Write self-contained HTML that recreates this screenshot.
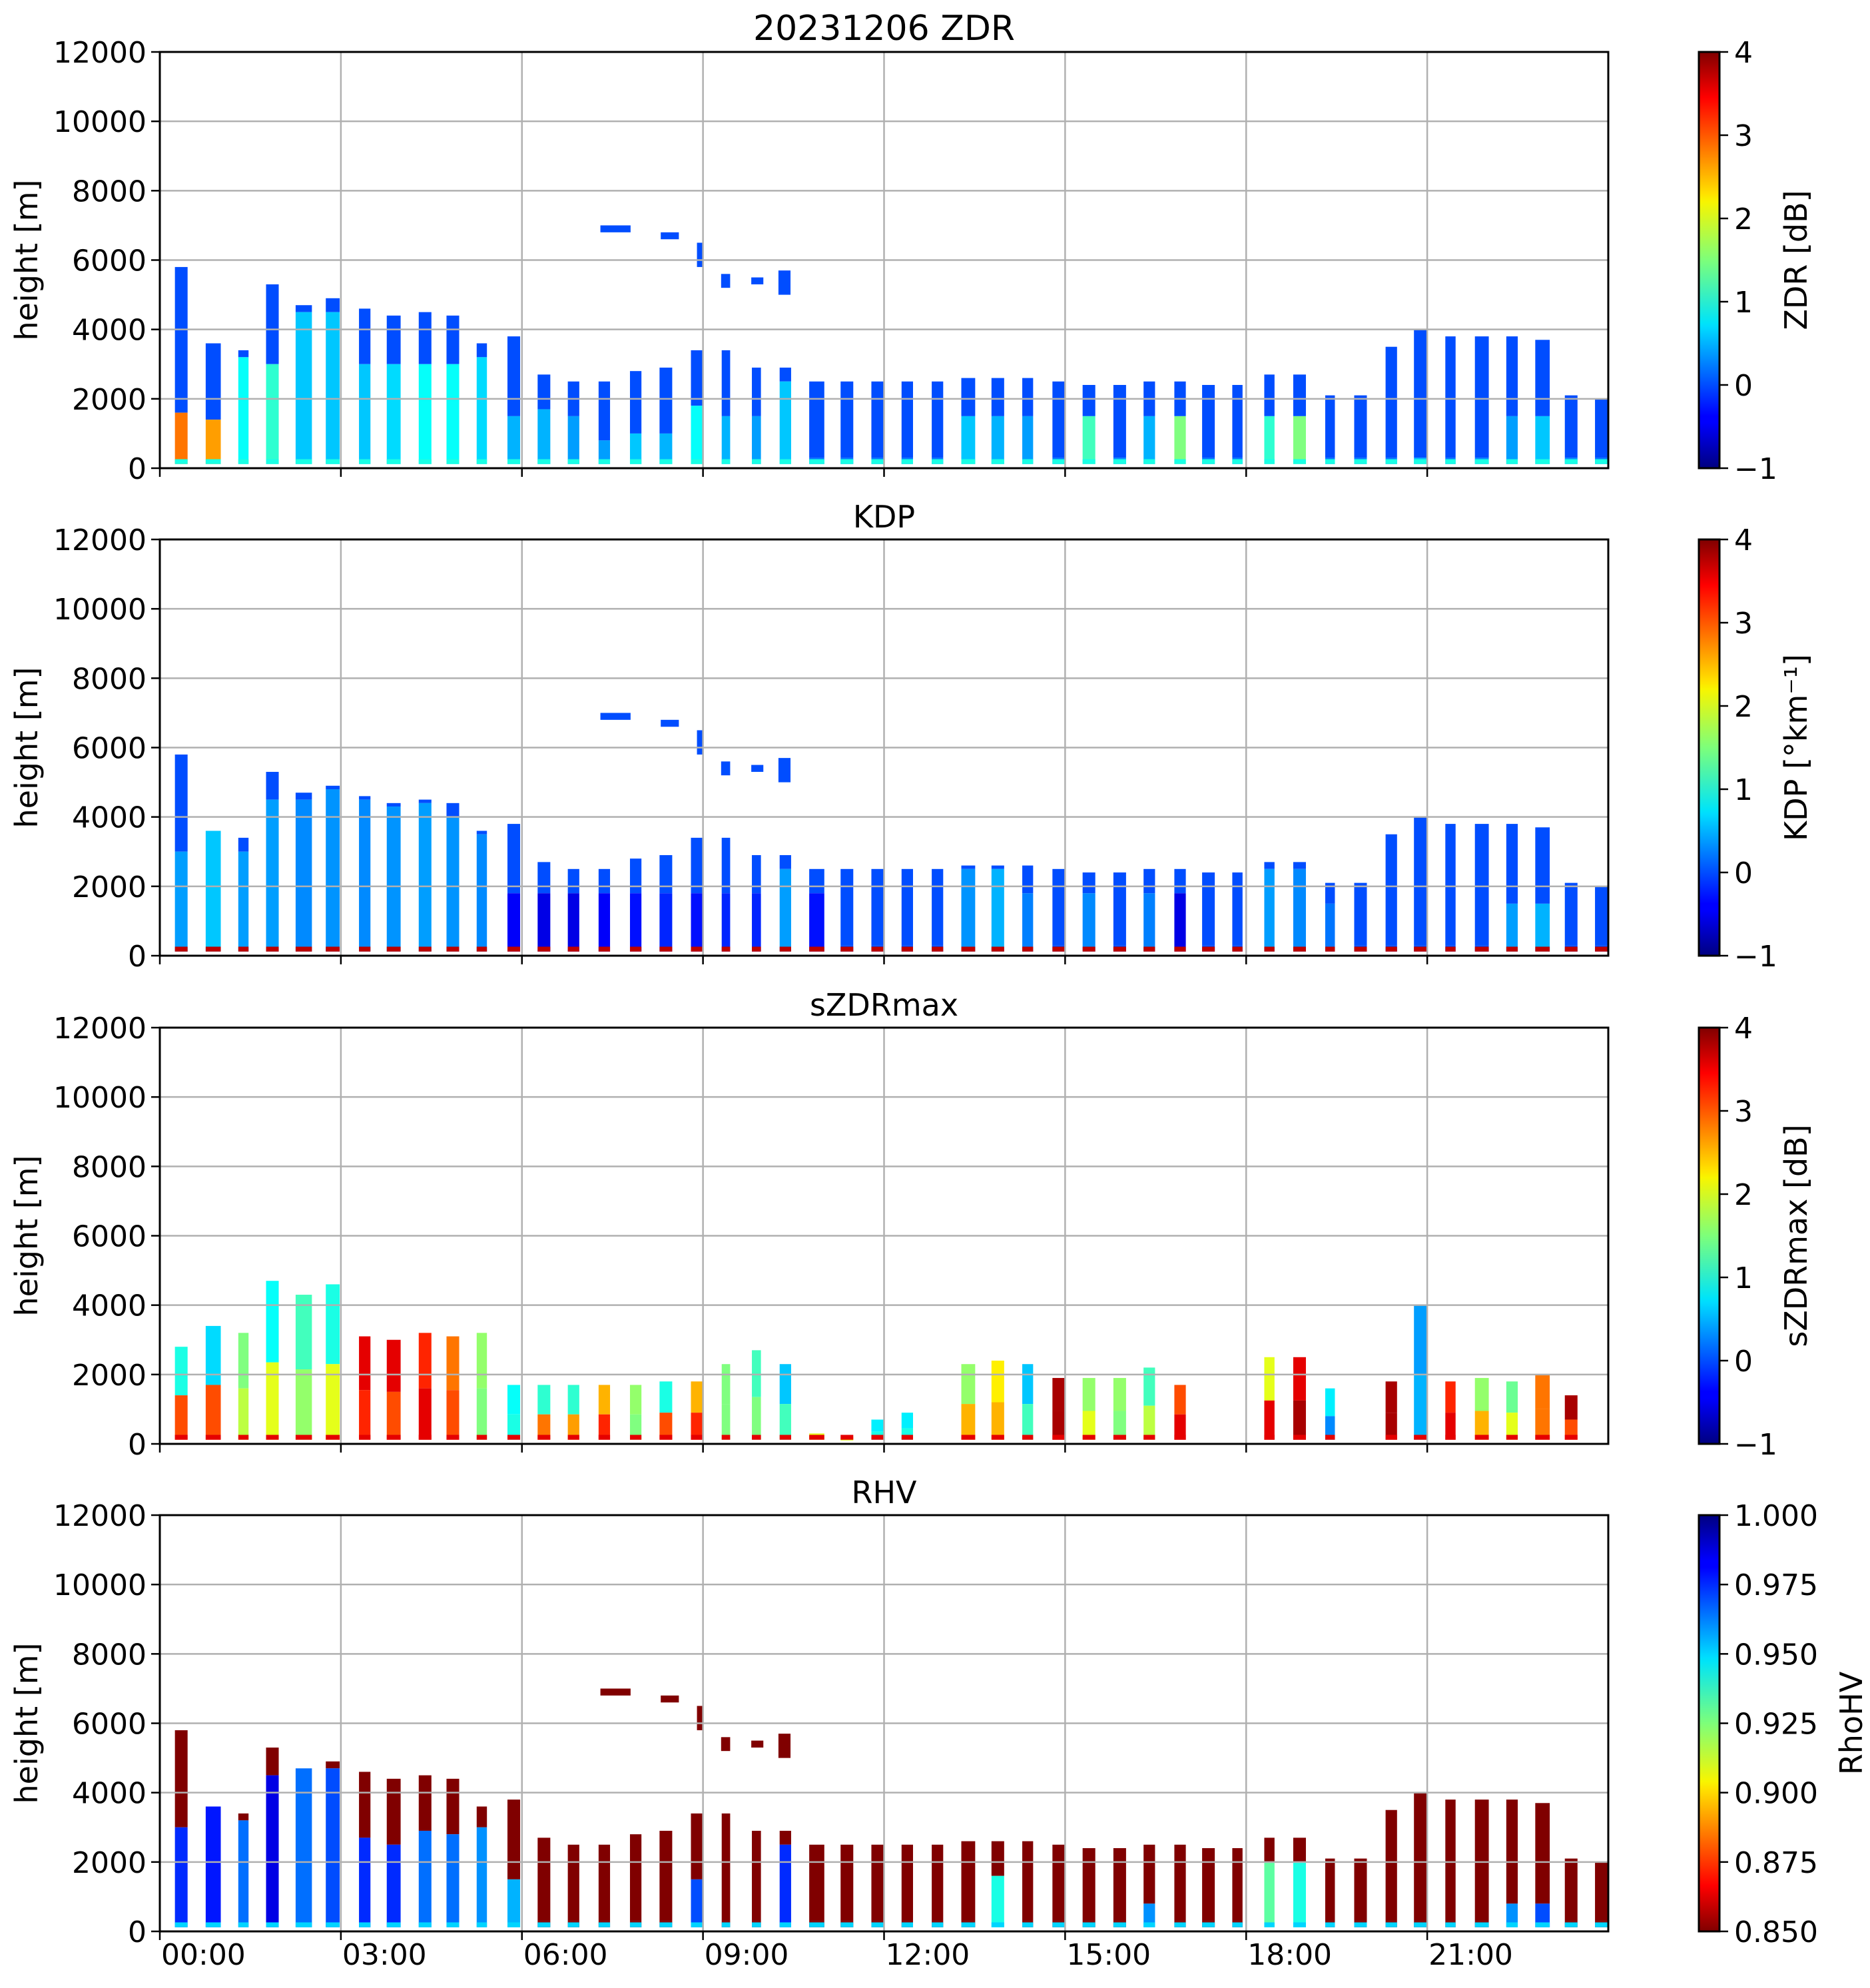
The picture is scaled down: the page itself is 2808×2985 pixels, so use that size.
<!DOCTYPE html>
<html><head><meta charset="utf-8"><style>
html,body{margin:0;padding:0;background:#fff;}
svg text{font-family:"DejaVu Sans","Liberation Sans",sans-serif;fill:#000;}
</style></head><body>
<svg id="fig" xmlns="http://www.w3.org/2000/svg" width="2808" height="2980" viewBox="0 0 2808 2980">
<defs>
<linearGradient id="jet" x1="0" y1="1" x2="0" y2="0">
<stop offset="0" stop-color="#000080"/><stop offset="0.11" stop-color="#0000ff"/><stop offset="0.125" stop-color="#0000ff"/>
<stop offset="0.34" stop-color="#00dcff"/><stop offset="0.35" stop-color="#00e4f8"/><stop offset="0.5" stop-color="#7dff7a"/>
<stop offset="0.64" stop-color="#f8f500"/><stop offset="0.66" stop-color="#ffe000"/><stop offset="0.89" stop-color="#ff0000"/><stop offset="1" stop-color="#800000"/>
</linearGradient>
<linearGradient id="jetr" x1="0" y1="0" x2="0" y2="1">
<stop offset="0" stop-color="#000080"/><stop offset="0.11" stop-color="#0000ff"/><stop offset="0.125" stop-color="#0000ff"/>
<stop offset="0.34" stop-color="#00dcff"/><stop offset="0.35" stop-color="#00e4f8"/><stop offset="0.5" stop-color="#7dff7a"/>
<stop offset="0.64" stop-color="#f8f500"/><stop offset="0.66" stop-color="#ffe000"/><stop offset="0.89" stop-color="#ff0000"/><stop offset="1" stop-color="#800000"/>
</linearGradient>
</defs>
</svg>
<script>
// ---- data ----
const colStart=[0.25,0.76,1.30,1.76,2.25,2.75,3.30,3.76,4.29,4.75,5.25,5.76,6.26,6.76,7.27,7.79,8.28,8.80,9.31,9.81,10.27,10.76,11.28,11.79,12.29,12.79,13.28,13.78,14.29,14.79,15.29,15.80,16.30,16.81,17.27,17.77,18.30,18.78,19.31,19.79,20.31,20.78,21.30,21.79,22.31,22.79,23.28,23.78];
const colEnd=[0.46,1.01,1.47,1.97,2.52,2.98,3.49,3.99,4.50,4.96,5.42,5.97,6.47,6.95,7.46,7.98,8.49,8.99,9.45,9.96,10.46,11.01,11.49,12.0,12.48,12.98,13.51,13.99,14.47,15.0,15.5,16.01,16.49,17.0,17.48,17.94,18.47,18.99,19.47,20.0,20.5,21.0,21.47,22.02,22.5,23.03,23.49,23.99];
const mainTop=[5800,3600,3400,5300,4700,4900,4600,4400,4500,4400,3600,3800,2700,2500,2500,2800,2900,3400,3400,2900,2900,2500,2500,2500,2500,2500,2600,2600,2600,2500,2400,2400,2500,2500,2400,2400,2700,2700,2100,2100,3500,4000,3800,3800,3800,3700,2100,2000];
const zdrSplit=[1600,1400,3200,3000,4500,4500,3000,3000,3000,3000,3200,1500,1700,1500,800,1000,1000,1800,1500,1500,2500,300,300,300,300,300,1500,1500,1500,300,1500,300,1500,1500,300,300,1500,1500,300,300,300,300,300,300,1500,1500,300,300];
const zdrLow=[2.8,2.6,0.9,1.1,0.6,0.6,0.6,0.7,0.9,0.9,0.7,0.5,0.5,0.4,0.4,0.6,0.5,0.9,0.5,0.4,0.6,0.2,0.2,0.2,0.2,0.2,0.6,0.5,0.4,0.2,1.2,0.3,0.5,1.5,0.2,0.2,1.1,1.5,0.2,0.2,0.2,0.5,0.2,0.3,0.4,0.6,0.3,0.2];
const kdpSplit=[3000,3600,3000,4500,4500,4800,4500,4300,4400,4000,3500,1800,1800,1800,1800,1800,1800,1800,1800,1800,2500,1800,300,300,300,300,2500,2500,1800,300,1800,300,1800,1800,300,300,2500,2500,1500,300,300,300,300,300,1500,1500,300,300];
const kdpLow=[0.4,0.6,0.4,0.4,0.3,0.35,0.3,0.35,0.4,0.35,0.3,-0.4,-0.5,-0.5,-0.4,-0.3,-0.2,-0.3,-0.2,-0.2,0.4,-0.3,0,0,0,0,0.35,0.5,0.25,0,0.3,0,0.25,-0.5,0,0,0.4,0.3,0.2,0,0,0,0,0,0.4,0.5,0,0];
const szdrTop=[2800,3400,3200,4700,4300,4600,3100,3000,3200,3100,3200,1700,1700,1700,1700,1700,1800,1800,2300,2700,2300,300,200,700,900,0,2300,2400,2300,1900,1900,1900,2200,1700,0,0,2500,2500,1600,0,1800,4000,1800,1900,1800,2000,1400,0];
const szdrLow=[3.0,3.0,1.8,2.0,1.6,2.0,3.2,3.0,3.5,3.0,1.5,1.0,2.8,2.6,3.2,1.5,3.0,3.2,1.5,1.5,1.2,2.0,2.0,1.0,1.0,0,2.5,2.5,1.2,3.8,2.0,1.5,1.8,3.5,0,0,3.5,3.8,0.3,0,3.8,0.5,3.5,2.5,2.0,2.8,3.0,0];
const szdrUp=[1.0,0.7,1.5,0.9,1.2,1.0,3.5,3.5,3.2,2.8,1.6,0.9,1.1,1.1,2.5,1.6,1.0,2.5,1.5,1.2,0.6,2.0,2.0,0.8,0.8,0,1.6,2.2,0.6,3.8,1.6,1.6,1.2,3.0,0,0,2.0,3.5,0.8,0,3.8,0.4,3.2,1.6,1.4,2.8,3.8,0];
const rhvSplit=[3000,3600,3200,4500,4700,4700,2700,2500,2900,2800,3000,1500,300,300,300,300,300,1500,300,300,2500,300,300,300,300,300,300,1600,300,300,300,300,800,300,300,300,2000,2000,300,300,300,300,300,300,800,800,300,300];
const rhvLow=[0.975,0.978,0.965,0.985,0.965,0.97,0.975,0.975,0.965,0.965,0.96,0.955,0.85,0.85,0.85,0.85,0.85,0.97,0.85,0.85,0.975,0.85,0.85,0.85,0.85,0.85,0.85,0.94,0.85,0.85,0.85,0.85,0.96,0.85,0.85,0.85,0.93,0.94,0.85,0.85,0.85,0.85,0.85,0.85,0.96,0.97,0.85,0.85];
const patchStart=[7.3,8.3,8.9,9.3,9.8,10.25];
const patchEnd=[7.8,8.6,9.0,9.45,10.0,10.45];
const patchLow=[6800,6600,5800,5200,5300,5000];
const patchHigh=[7000,6800,6500,5600,5500,5700];
const yTicks=[0,2000,4000,6000,8000,10000,12000];
const xTickLabels=["00:00","03:00","06:00","09:00","12:00","15:00","18:00","21:00"];
const panelTitles=["20231206 ZDR","KDP","sZDRmax","RHV"];
const cbLabels=["ZDR [dB]","KDP [°km⁻¹]","sZDRmax [dB]","RhoHV"];
const cbTicksA=["−1","0","1","2","3","4"];
const cbTicksB=["0.850","0.875","0.900","0.925","0.950","0.975","1.000"];

// ---- layout ----
const NS="http://www.w3.org/2000/svg";
const svg=document.getElementById('fig');
const L=240,R=2415,H=625,tops=[78,810,1543,2275];
const xs=h=>L+h*(R-L)/24;
function jet(t){t=Math.max(0,Math.min(1,t));const c=v=>Math.round(255*Math.max(0,Math.min(1,v)));
 return `rgb(${c(1.5-Math.abs(4*t-3))},${c(1.5-Math.abs(4*t-2))},${c(1.5-Math.abs(4*t-1))})`;}
function mk(tag,attrs,parent){const e=document.createElementNS(NS,tag);for(const k in attrs)e.setAttribute(k,attrs[k]);(parent||svg).appendChild(e);return e;}

for(let p=0;p<4;p++){
 const T=tops[p], ys=v=>T+H*(1-v/12000);
 const g=mk('g',{});
 
 
 const norm = p===3 ? (v=>1-(v-0.85)/0.15) : (v=>(v+1)/5);
 for(let i=0;i<colStart.length;i++){
  let top,split,low,up,bot;
  if(p===0){top=mainTop[i];split=zdrSplit[i];low=zdrLow[i];up=0;bot=1.0;}
  else if(p===1){top=mainTop[i];split=kdpSplit[i];low=kdpLow[i];up=0;bot=3.7;}
  else if(p===2){top=szdrTop[i];split=Math.round(szdrTop[i]*0.5);low=szdrLow[i];up=szdrUp[i];bot=3.5;}
  else {top=mainTop[i];split=rhvSplit[i];low=rhvLow[i];up=0.85;bot=0.95;}
  if(top<=0)continue;
  const x0=xs(colStart[i]),x1=xs(colEnd[i]);
  const b=120, s=Math.min(split,top);
  const r1=mk('rect',{x:x0,y:ys(top),width:x1-x0,height:ys(s)-ys(top),fill:jet(norm(up))},g);
  
  
  const r2=mk('rect',{x:x0,y:ys(s),width:x1-x0,height:ys(b)-ys(s),fill:jet(norm(low))},g);
  
  
  const r3=mk('rect',{x:x0,y:ys(260),width:x1-x0,height:ys(b)-ys(260),fill:jet(norm(bot))},g);
  
  
 }
 if(p!==2){
  for(let j=0;j<patchStart.length;j++){
   const r=mk('rect',{x:xs(patchStart[j]),y:ys(patchHigh[j]),width:xs(patchEnd[j])-xs(patchStart[j]),height:ys(patchLow[j])-ys(patchHigh[j]),fill:p===3?'#800000':jet(norm(0))},g);
   
   
  }
 }
 for(let k=1;k<8;k++){const l=mk('line',{x1:xs(k*3),x2:xs(k*3),y1:T,y2:T+H,stroke:'#b0b0b0','stroke-width':2.5});
  }
 for(const v of yTicks){if(v===0||v===12000)continue;const l=mk('line',{x1:L,x2:R,y1:ys(v),y2:ys(v),stroke:'#b0b0b0','stroke-width':2.5});
  }
 const fr=mk('rect',{x:L,y:T,width:R-L,height:H,fill:'none',stroke:'#000','stroke-width':3});
 
 for(const v of yTicks){
  mk('line',{x1:L-13,x2:L,y1:ys(v),y2:ys(v),stroke:'#000','stroke-width':2.5});
  const t=mk('text',{x:L-20,y:ys(v)+16,'text-anchor':'end','font-size':44});t.textContent=v;
  
 }
 for(let k=0;k<8;k++) mk('line',{x1:xs(k*3),x2:xs(k*3),y1:T+H,y2:T+H+13,stroke:'#000','stroke-width':2.5});
 if(p===3){for(let k=0;k<8;k++){const t=mk('text',{x:xs(k*3)+2,y:2950,'font-size':44});t.textContent=xTickLabels[k];
  }}
 const yl=mk('text',{x:0,y:0,'text-anchor':'middle','font-size':46,transform:`translate(56,${T+H/2}) rotate(-90)`});yl.textContent='height [m]';
 
 const tt=mk('text',{x:(L+R)/2,y:T-18,'text-anchor':'middle','font-size':p===0?52:46});tt.textContent=panelTitles[p];
 
 const cb=mk('rect',{x:2551,y:T,width:31,height:H,fill:p===3?'url(#jetr)':'url(#jet)',stroke:'#000','stroke-width':3});
 
 const labs=p===3?cbTicksB:cbTicksA;
 for(let k=0;k<labs.length;k++){const y=T+H-k*H/(labs.length-1);
  mk('line',{x1:2582,x2:2595,y1:y,y2:y,stroke:'#000','stroke-width':2.5});
  const t=mk('text',{x:2604,y:y+16,'font-size':44});t.textContent=labs[k];
  }
 const cl=mk('text',{x:0,y:0,'text-anchor':'middle','font-size':46,transform:`translate(${p===3?2796:2713},${T+H/2}) rotate(-90)`});cl.textContent=cbLabels[p];
 
}
</script>
</body></html>
